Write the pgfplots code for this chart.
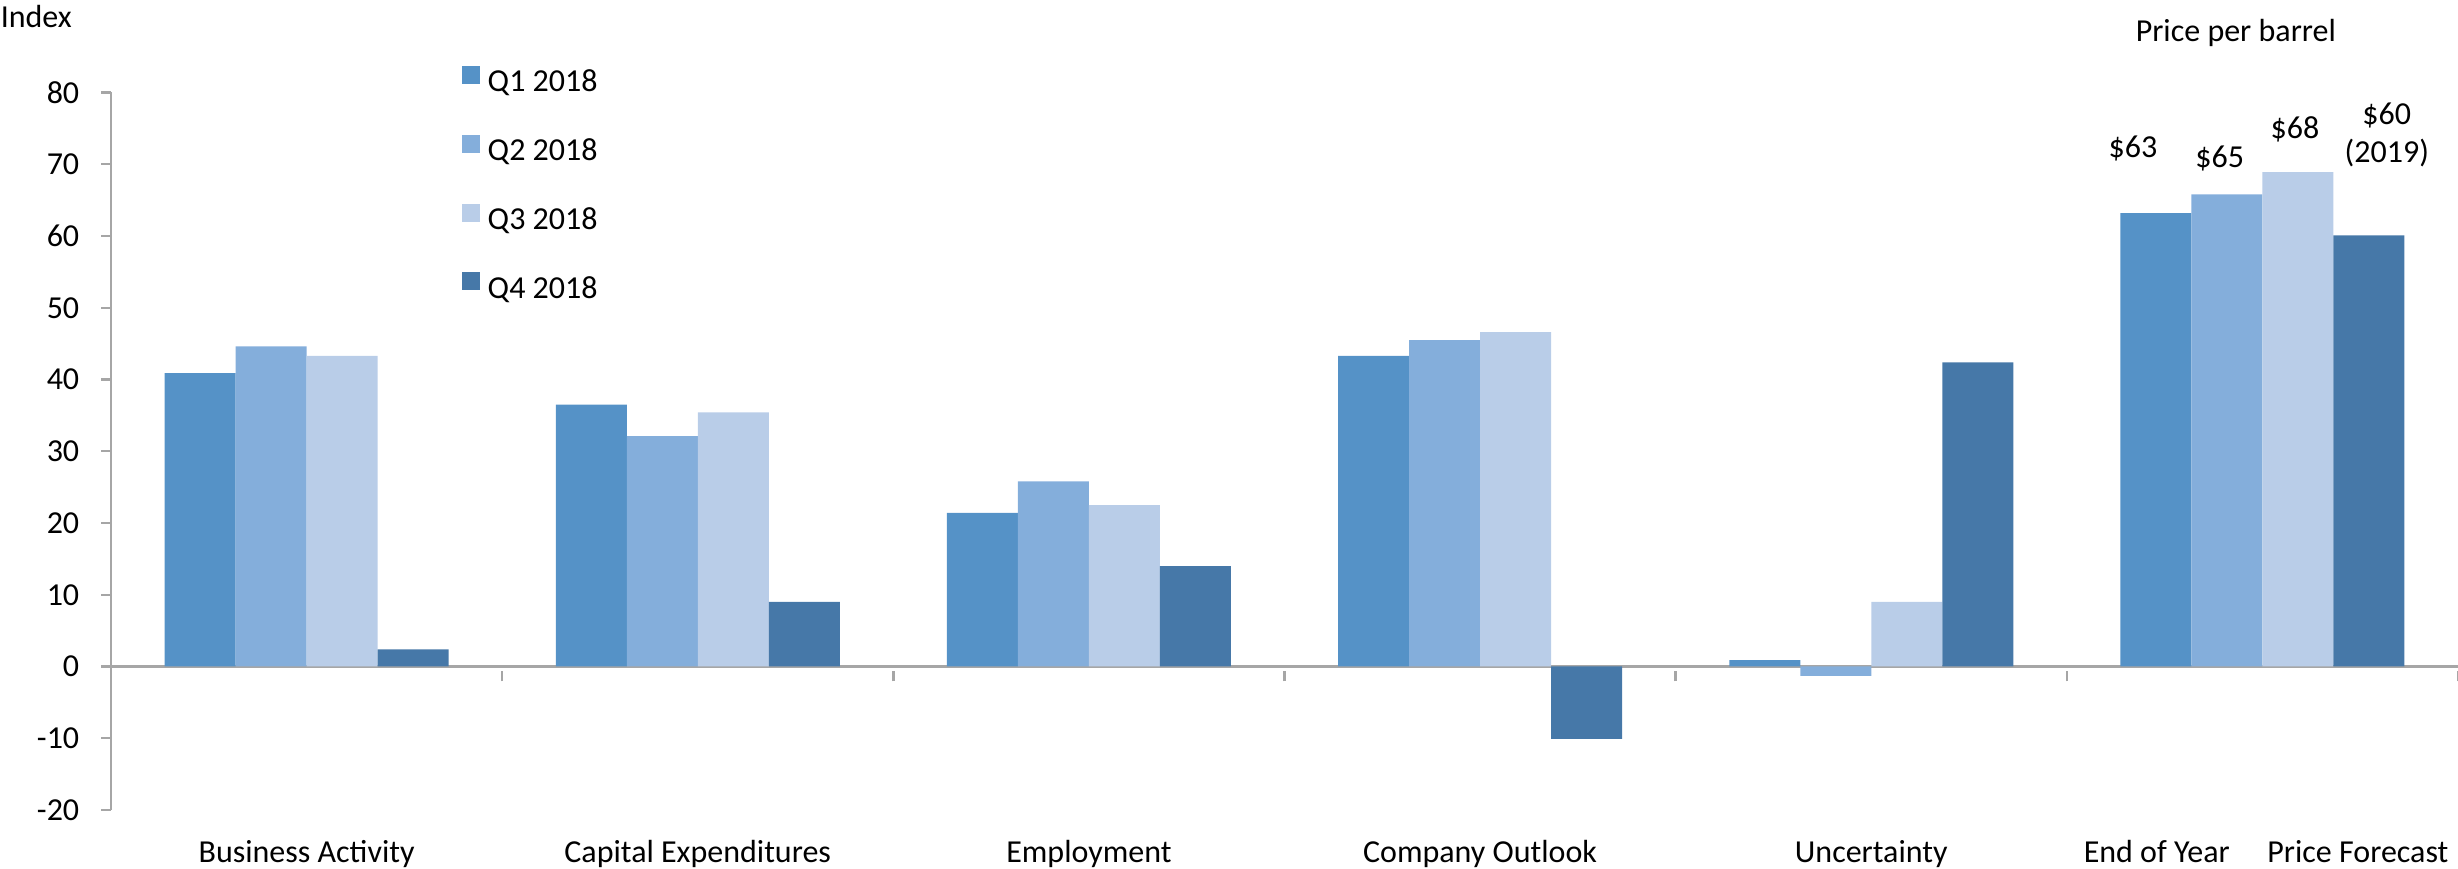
\documentclass[border=0pt]{standalone}
\usepackage{pgfplots}
\pgfplotsset{compat=1.18}
\usepackage{fontspec}
\setmainfont{Carlito}
\definecolor{cq1}{RGB}{85,146,199}
\definecolor{cq2}{RGB}{132,174,219}
\definecolor{cq3}{RGB}{185,205,232}
\definecolor{cq4}{RGB}{70,120,168}
\definecolor{axisgray}{RGB}{166,166,166}
\begin{document}
\begin{tikzpicture}[font=\fontsize{8}{9.6}\selectfont]
\begin{axis}[
  scale only axis, width=586.75pt, height=179.375pt,
  xmin=-0.5, xmax=5.5, ymin=-20, ymax=80,
  axis y line=left, axis x line=middle,
  axis line style={-, draw=axisgray, line width=0.6pt},
  ytick={-20,-10,...,80},
  xtick={-0.5,0.5,...,5.5}, xticklabels={},
  major tick length=2.5pt,
  ytick align=outside, xtick align=center,
  x tick style={draw=axisgray, line width=0.6pt, yshift=-1.25pt},
  y tick style={draw=axisgray, line width=0.6pt},
  /pgf/number format/assume math mode=true,
  tick label style={font=\fontsize{8}{9.6}\selectfont},
  yticklabel style={inner sep=0pt, xshift=-5.25pt},
  ybar, bar width=17.75pt,
  clip=false,
  legend cell align=left,
  legend image code/.code={\fill[#1] (0pt,-0.3pt) rectangle (4.5pt,4.2pt);},
  legend style={at={(rel axis cs:0.1491,1.038)}, anchor=north west,
    draw=none, fill=none, inner sep=0pt, row sep=9.25pt,
    nodes={inner sep=0pt, text height=6pt, text depth=1.5pt, font=\fontsize{8}{9.6}\selectfont},
    /tikz/every odd column/.append style={column sep=2pt}},
]
\addplot[fill=cq1, draw=none, bar shift=-26.625pt] coordinates {(0,40.9) (1,36.5) (2,21.4) (3,43.3) (4,0.9) (5,63.2)};
\addplot[fill=cq2, draw=none, bar shift=-8.875pt] coordinates {(0,44.6) (1,32.1) (2,25.8) (3,45.5) (4,-1.3) (5,65.8)};
\addplot[fill=cq3, draw=none, bar shift=8.875pt] coordinates {(0,43.3) (1,35.4) (2,22.5) (3,46.6) (4,9.0) (5,68.9)};
\addplot[fill=cq4, draw=none, bar shift=26.625pt] coordinates {(0,2.4) (1,9.0) (2,14.0) (3,-10.1) (4,42.4) (5,60.1)};
\legend{Q1 2018, Q2 2018, Q3 2018, Q4 2018}
% category labels
\node[anchor=base] at (axis cs:0,-20) [yshift=-13pt] {Business Activity};
\node[anchor=base] at (axis cs:1,-20) [yshift=-13pt] {Capital Expenditures};
\node[anchor=base] at (axis cs:2,-20) [yshift=-13pt] {Employment};
\node[anchor=base] at (axis cs:3,-20) [yshift=-13pt] {Company Outlook};
\node[anchor=base] at (axis cs:4,-20) [yshift=-13pt] {Uncertainty};
\node[anchor=base] at (axis cs:4.730,-20) [yshift=-13pt] {End of Year};
\node[anchor=base] at (axis cs:5.244,-20) [yshift=-13pt] {Price Forecast};
% value labels
\node at (axis cs:4.669,72.2) {\$63};
\node at (axis cs:4.891,70.85) {\$65};
\node at (axis cs:5.083,74.8) {\$68};
\node at (axis cs:5.318,76.8) {\$60};
\node at (axis cs:5.318,71.5) {(2019)};
\node at (axis cs:4.932,88.3) {Price per barrel};
\node[anchor=west, inner sep=0pt] at (axis cs:-0.5,90.65) [xshift=-27.75pt] {Index};
\end{axis}
\pgfresetboundingbox
\path[use as bounding box] (-27.75pt,-14.5pt) rectangle (586.75pt,202.5pt);
\end{tikzpicture}
\end{document}
